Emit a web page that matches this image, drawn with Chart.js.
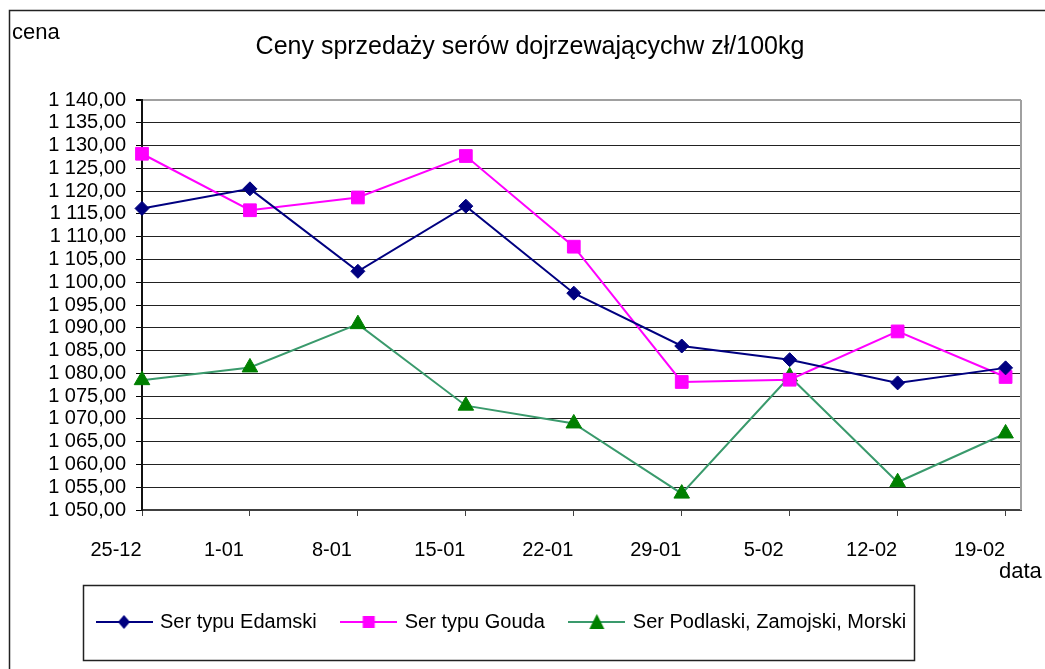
<!DOCTYPE html>
<html><head><meta charset="utf-8">
<script src="https://cdn.jsdelivr.net/npm/chart.js@4.4.1/dist/chart.umd.min.js"></script>
<style>html,body{margin:0;padding:0;background:#fff}</style>
</head><body>
<canvas id="c" width="1045" height="669"></canvas>
<script>
const chartTitle = 'Ceny sprzedaży serów dojrzewającychw zł/100kg';
const yAxisTitle = 'cena';
const xAxisTitle = 'data';
const categories = ['25-12', '1-01', '8-01', '15-01', '22-01', '29-01', '5-02', '12-02', '19-02'];
const dayOffsets = [0, 7, 14, 21, 28, 35, 42, 49, 56];
const seriesNames = ['Ser typu Edamski', 'Ser typu Gouda', 'Ser Podlaski, Zamojski, Morski'];
const edamski = [1116.2, 1120.5, 1102.4, 1116.7, 1097.6, 1086.0, 1083.0, 1077.9, 1081.2];
const gouda = [1128.2, 1115.8, 1118.6, 1127.7, 1107.8, 1078.1, 1078.6, 1089.2, 1079.2];
const podlaski = [1078.5, 1081.3, 1090.8, 1072.9, 1069.0, 1053.6, 1079.3, 1056.1, 1066.8];
const yMin = 1050, yMax = 1140, yStep = 5;
const xMin = 0, xMax = 57, xStep = 7;

const FONT = "'Liberation Sans', Arial, sans-serif";

function fmt(v) {
  const s = Number(v).toFixed(2).split('.');
  return s[0].replace(/\B(?=(\d{3})+(?!\d))/g, ' ') + ',' + s[1];
}

function makeSample(lineColor, markerColor, style) {
  const c = document.createElement('canvas');
  c.width = 57; c.height = 20;
  const g = c.getContext('2d');
  g.strokeStyle = lineColor; g.lineWidth = 2;
  g.beginPath(); g.moveTo(0, 10); g.lineTo(57, 10); g.stroke();
  g.fillStyle = markerColor;
  const cx = 28.5, cy = 10;
  g.beginPath();
  if (style === 'diamond') {
    g.moveTo(cx, cy - 7); g.lineTo(cx + 6, cy); g.lineTo(cx, cy + 7); g.lineTo(cx - 6, cy);
  } else if (style === 'square') {
    g.rect(cx - 6, cy - 6, 12, 12);
  } else {
    g.moveTo(cx, cy - 8); g.lineTo(cx + 7.5, cy + 7); g.lineTo(cx - 7.5, cy + 7);
  }
  g.closePath(); g.fill();
  return c;
}
const samples = [
  makeSample('#000080', '#000080', 'diamond'),
  makeSample('#FF00FF', '#FF00FF', 'square'),
  makeSample('#3A9A6C', '#008000', 'triangle')
];

const extras = {
  id: 'extras',
  afterLayout(chart) {
    chart.legend.left += 33;
    chart.legend.right += 33;
  },
  afterDraw(chart) {
    const ctx = chart.ctx, a = chart.chartArea;
    ctx.save();
    // plot area right border
    ctx.strokeStyle = '#a0a0a0'; ctx.lineWidth = 2;
    ctx.beginPath(); ctx.moveTo(a.right, a.top); ctx.lineTo(a.right, a.bottom); ctx.stroke();
    // outer chart border
    ctx.strokeStyle = '#222'; ctx.lineWidth = 1.5;
    ctx.strokeRect(9.5, 10.5, 2000, 2000);
    // axis titles
    ctx.fillStyle = '#000'; ctx.font = '22px ' + FONT;
    ctx.textBaseline = 'middle'; ctx.textAlign = 'left';
    ctx.fillText(yAxisTitle, 12, 33);
    ctx.fillText(xAxisTitle, 999, 572);
    // legend frame
    const hb = chart.legend.legendHitBoxes;
    if (hb && hb.length) {
      const first = hb[0], last = hb[hb.length - 1];
      const cy = first.top + first.height / 2;
      const l = first.left - 15, r = last.left + last.width + 8;
      ctx.strokeStyle = '#222'; ctx.lineWidth = 1.5;
      ctx.strokeRect(Math.round(l) + 0.5, Math.round(cy - 37) + 0.5, Math.round(r - l), 75);
    }
    ctx.restore();
  }
};

const mk = (vals) => dayOffsets.map((d, i) => ({x: d, y: vals[i]}));

new Chart(document.getElementById('c'), {
  type: 'line',
  data: {
    datasets: [
      {label: seriesNames[0], data: mk(edamski), borderColor: '#000080', backgroundColor: '#000080',
       borderWidth: 2, pointStyle: 'rectRot', pointRadius: 7, pointBorderWidth: 1, tension: 0, clip: false},
      {label: seriesNames[1], data: mk(gouda), borderColor: '#FF00FF', backgroundColor: '#FF00FF',
       borderWidth: 2, pointStyle: 'rect', pointRadius: 9, pointBorderWidth: 1, tension: 0, clip: false},
      {label: seriesNames[2], data: mk(podlaski), borderColor: '#3A9A6C', backgroundColor: '#008000',
       pointBorderColor: '#008000', borderWidth: 2, pointStyle: 'triangle', pointRadius: 9, pointBorderWidth: 1, tension: 0, clip: false}
    ]
  },
  options: {
    responsive: false,
    devicePixelRatio: 1,
    animation: false,
    events: [],
    layout: {padding: {left: 39, right: 24, top: 0, bottom: 27}},
    plugins: {
      title: {display: true, text: chartTitle, color: '#000', font: {family: FONT, size: 25, weight: 'normal'},
              padding: {top: 32, bottom: 38}},
      legend: {
        position: 'bottom', align: 'start',
        labels: {
          usePointStyle: true, pointStyleWidth: 52, padding: 26, color: '#000',
          font: {family: FONT, size: 20},
          generateLabels(chart) {
            const items = Chart.defaults.plugins.legend.labels.generateLabels(chart);
            items.forEach((it, i) => { it.pointStyle = samples[i]; it.rotation = 0; });
            return items;
          }
        }
      },
      tooltip: {enabled: false}
    },
    scales: {
      x: {
        type: 'linear', position: 'bottom', min: xMin, max: xMax,
        afterFit(s) { s.height = 76; s.paddingRight = 0; s.paddingLeft = 0; },
        ticks: {
          stepSize: xStep, includeBounds: false, autoSkip: false, maxRotation: 0,
          color: '#000', font: {family: FONT, size: 20}, padding: 22, labelOffset: -26,
          callback(v) { const i = dayOffsets.indexOf(v); return i >= 0 ? categories[i] : ''; }
        },
        grid: {drawOnChartArea: false, drawTicks: true, tickLength: 6, color: '#404040', tickColor: '#404040'},
        border: {color: '#404040', width: 2}
      },
      y: {
        min: yMin, max: yMax,
        afterFit(s) { s.width = 103; s.paddingTop = 0; s.paddingBottom = 0; },
        ticks: {
          stepSize: yStep, autoSkip: false, color: '#000', font: {family: FONT, size: 20}, padding: 10,
          callback(v) { return fmt(v); }
        },
        grid: {
          color: (c) => (c.tick && c.tick.value === yMax) ? '#a0a0a0' : '#222',
          lineWidth: (c) => (c.tick && c.tick.value === yMax) ? 2 : 1,
          tickLength: 6, tickColor: '#000', drawTicks: true
        },
        border: {color: '#111', width: 2}
      }
    }
  },
  plugins: [extras]
});
</script>
</body></html>
